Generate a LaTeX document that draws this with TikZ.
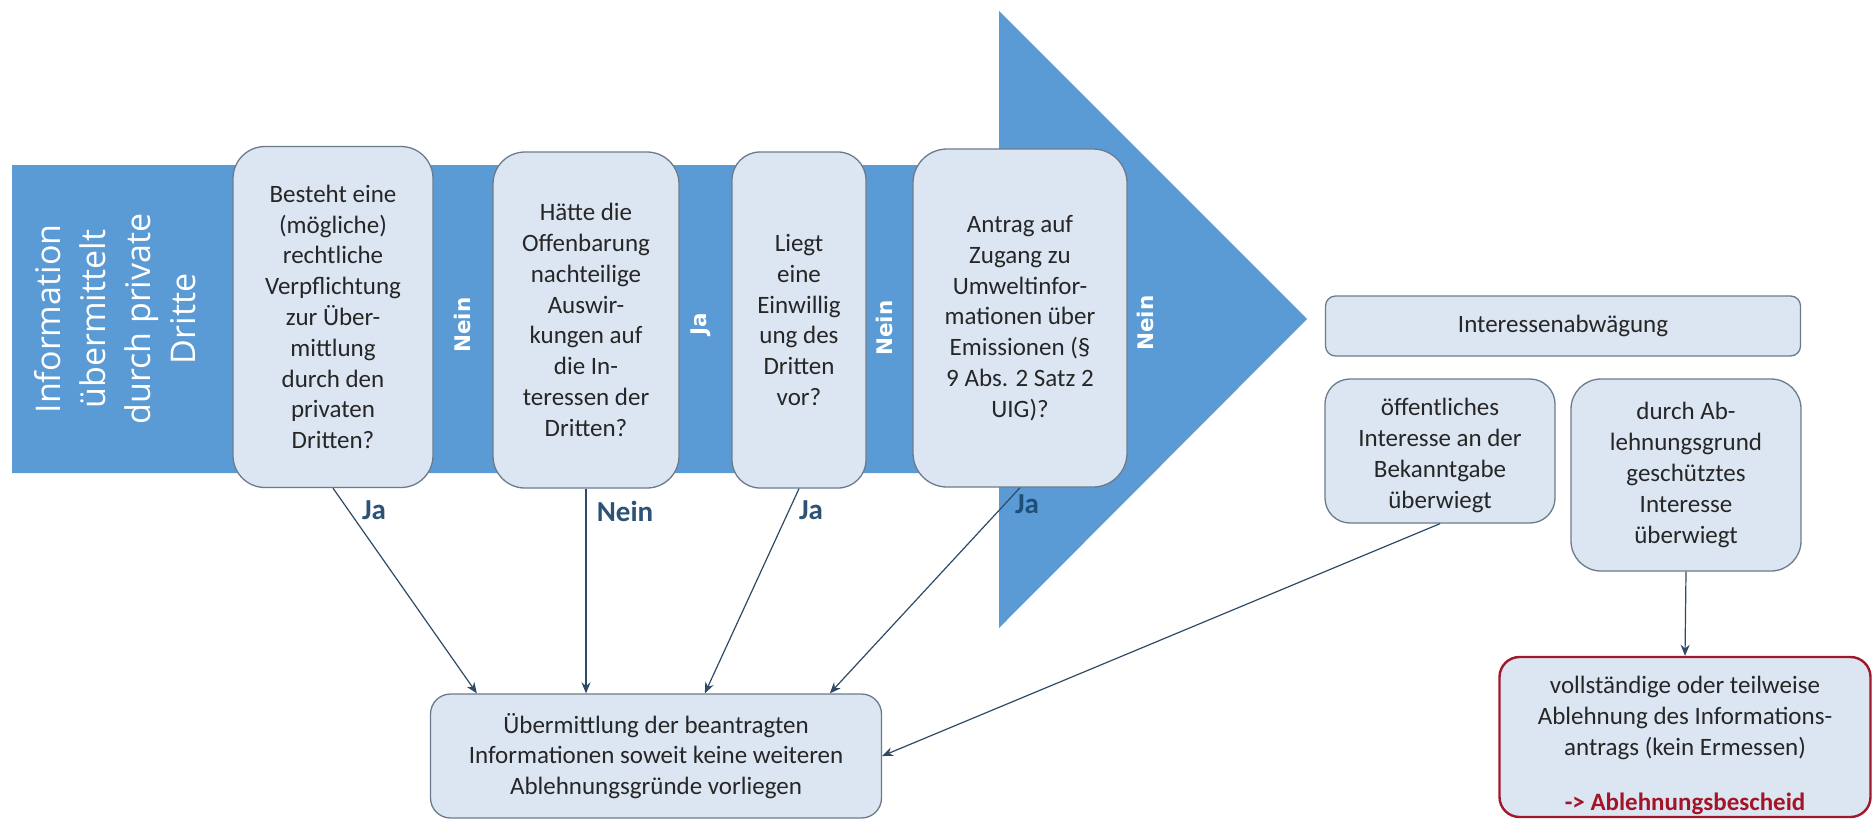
\documentclass[tikz,border=0pt]{standalone}
\usepackage{fontspec}
\setmainfont{Carlito}
\newfontfamily\osans{Open Sans}
\newfontfamily\dvsans{DejaVu Sans}
\usetikzlibrary{arrows.meta,calc}
\definecolor{arrowblue}{HTML}{5B9BD5}
\definecolor{boxfill}{HTML}{DCE6F2}
\definecolor{boxline}{HTML}{6B7B8C}
\definecolor{txtc}{HTML}{262626}
\definecolor{lblc}{HTML}{2E5276}
\definecolor{lbldark}{HTML}{1F4E79}
\definecolor{connc}{HTML}{2F4A66}
\definecolor{redline}{HTML}{A0182C}
\definecolor{redtxt}{HTML}{A31526}
\begin{document}
\begin{tikzpicture}[x=1pt,y=-1pt,
  qbox/.style={draw=boxline, line width=1.3pt, fill=boxfill, text=txtc, align=center,
    inner sep=0pt, font=\fontsize{25}{30.8}\selectfont},
  innein/.style={text=white, font=\dvsans\bfseries\fontsize{21.5}{24}\selectfont, rotate=90},
  outlbl/.style={text=lblc, font=\bfseries\fontsize{29}{32}\selectfont},
  connector/.style={draw=connc, line width=1.2pt, -{Stealth[length=11pt,width=9pt]}}
]
\useasboundingbox (0,0) rectangle (1876,820);
\fill[white] (0,0) rectangle (1876,820);
% big process arrow
\fill[arrowblue] (12,165) -- (999,165) -- (999,11) -- (1307,319) -- (999,628) -- (999,473) -- (12,473) -- cycle;
\node[text=white, font=\osans\fontsize{34}{45}\selectfont, rotate=90, align=center] (src) at (115,319)
  {Information\\übermittelt\\durch private\\Dritte};

% question boxes
\node[qbox, minimum width=200pt, minimum height=341pt, rounded corners=32pt] (b1) at (333,317)
  {Besteht eine\\(mögliche)\\rechtliche\\Verpflichtung\\zur Über-\\mittlung\\durch den\\privaten\\Dritten?};
\node[qbox, minimum width=186pt, minimum height=336pt, rounded corners=32pt] (b2) at (586,320)
  {Hätte die\\Offenbarung\\nachteilige\\Auswir-\\kungen auf\\die In-\\teressen der\\Dritten?};
\node[qbox, minimum width=134pt, minimum height=336pt, rounded corners=28pt] (b3) at (799,320)
  {Liegt\\eine\\Einwillig\\ung des\\Dritten\\vor?};
\node[qbox, minimum width=214pt, minimum height=338pt, rounded corners=34pt] (b4) at (1020,318)
  {Antrag auf\\Zugang zu\\Umweltinfor-\\mationen über\\Emissionen (§\\9 Abs. 2 Satz 2\\UIG)?};

% labels inside the arrow
\node[innein] (n1) at (462,325) {Nein};
\node[innein] (j1) at (701,324) {Ja};
\node[innein] (n2) at (884,328) {Nein};
\node[innein] (n3) at (1145,323) {Nein};

% right side
\node[qbox, minimum width=475pt, minimum height=60pt, rounded corners=10pt] (inter) at (1563,326)
  {Interessenabwägung};
\node[qbox, minimum width=230pt, minimum height=144pt, rounded corners=25pt] (oeff) at (1440,451)
  {\raisebox{-5pt}[\height][\depth]{\begin{tabular}{@{}c@{}}öffentliches\\Interesse an der\\Bekanntgabe\\überwiegt\end{tabular}}};
\node[qbox, minimum width=230pt, minimum height=192pt, rounded corners=30pt] (durch) at (1686,475)
  {durch Ab-\\lehnungsgrund\\geschütztes\\Interesse\\überwiegt};
\node[qbox, draw=redline, line width=2.4pt, minimum width=371pt, minimum height=160pt, rounded corners=20pt] (red) at (1685,737)
  {\raisebox{-9pt}[\height][\depth]{\begin{tabular}{@{}c@{}}vollständige oder teilweise\\Ablehnung des Informations-\\antrags (kein Ermessen)\\[25pt]\textcolor{redtxt}{\bfseries -> Ablehnungsbescheid}\end{tabular}}};

% result box
\node[qbox, minimum width=451pt, minimum height=124pt, rounded corners=20pt] (bot) at (656,756)
  {Übermittlung der beantragten\\Informationen soweit keine weiteren\\Ablehnungsgründe vorliegen};

% connectors
\draw[connector] (b1.south) -- ([xshift=47pt]bot.north west);
\draw[connector] (b2.south) -- (b2.south |- bot.north);
\draw[connector] (b3.south) -- ([xshift=275pt]bot.north west);
\draw[connector] (b4.south) -- ([xshift=400pt]bot.north west);
\draw[connector] (oeff.south) -- (bot.east);
\draw[connector] (durch.south) -- (red.north);

% connector labels
\node[outlbl] (lj1) at (374,510) {Ja};
\node[outlbl] (ln1) at (625,511) {Nein};
\node[outlbl] (lj2) at (811,510) {Ja};
\node[outlbl, text=lbldark] (lj3) at (1027,504) {Ja};
\end{tikzpicture}
\end{document}
